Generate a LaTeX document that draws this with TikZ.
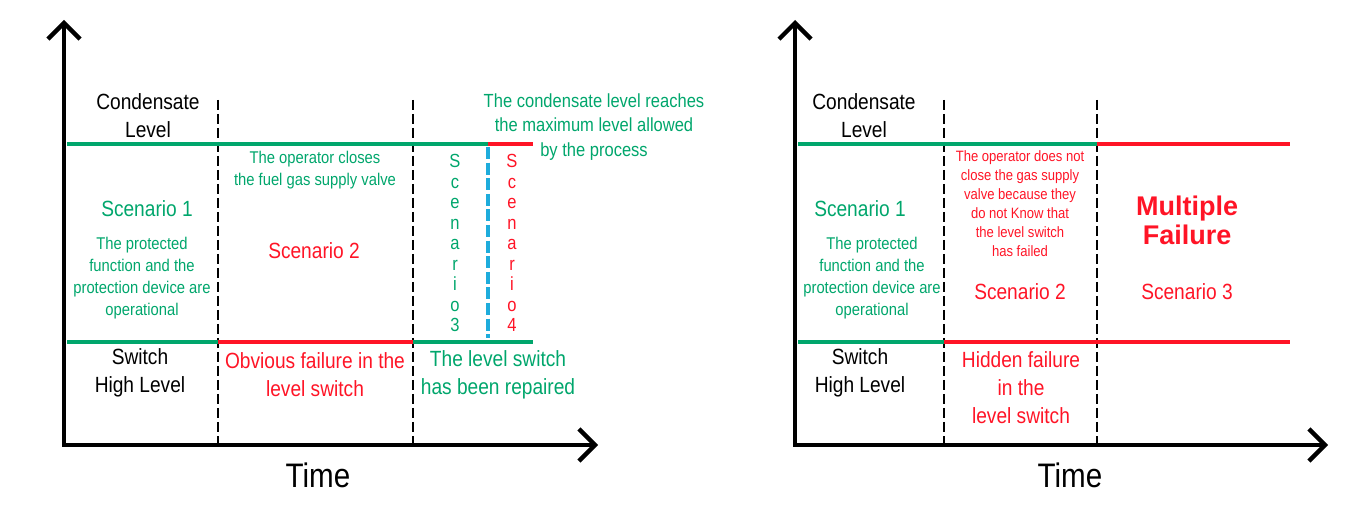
\documentclass[tikz,border=0pt]{standalone}
\usepackage{fontspec}
\setmainfont[FakeStretch=0.87]{Liberation Sans}
\newfontfamily\widesans{Liberation Sans}
\usetikzlibrary{arrows.meta}

\definecolor{okgreen}{RGB}{0,166,108}
\definecolor{badred}{RGB}{255,20,38}
\definecolor{sepcyan}{RGB}{30,172,220}

\begin{document}
\begin{tikzpicture}[x=0.5pt, y=-0.5pt,
    axis/.style={line width=2.2pt, line join=miter, {Straight Barb[length=8pt,width=16pt]}-{Straight Barb[length=8pt,width=16pt]}},
    level/.style={line width=2.1pt},
    sep/.style={black, line width=0.8pt, dash pattern=on 5pt off 2pt},
    txt/.style={font=\fontsize{11}{14}\selectfont, align=center, inner sep=0pt},
    small/.style={font=\fontsize{8.5}{11}\selectfont, align=center, inner sep=0pt},
    tiny/.style={font=\fontsize{7.5}{9.5}\selectfont, align=center, inner sep=0pt},
    note/.style={font=\fontsize{9.5}{12.25}\selectfont, align=center, inner sep=0pt},
    vert/.style={font=\fontsize{9.5}{10.25}\selectfont, align=center, inner sep=0pt},
    big/.style={font=\widesans\fontsize{13.5}{14.5}\selectfont\bfseries, align=center, inner sep=0pt},
    timelbl/.style={font=\fontsize{17}{20}\selectfont, inner sep=0pt}]
    \useasboundingbox (0,0) rectangle (1352,512);

    % ---- Left diagram: obvious failure ----
    % Axes
    \draw[axis] (64,20) -- (64,445) -- (598,445);
    \node[timelbl] (t1) at (318,475) {Time};

    % Time separators
    \draw[sep] (218,100) -- (218,445);
    \draw[sep] (413,100) -- (413,445);
    \draw[sepcyan, line width=1.6pt, dash pattern=on 6pt off 1.8pt] (488,147) -- (488,338);

    % Condensate level
    \draw[level, okgreen] (67,144) -- (488,144);
    \draw[level, badred] (488,144) -- (533,144);

    % Switch high level
    \draw[level, okgreen] (67,342) -- (218,342);
    \draw[level, badred] (218,342) -- (413,342);
    \draw[level, okgreen] (413,342) -- (533,342);

    % Labels
    \node[txt] (cl1) at (148,116) {Condensate\\Level};
    \node[txt] (sw1) at (140,373) {Switch\\High Level};
    \node[txt, okgreen] (sc1a) at (147,209) {Scenario 1};
    \node[small, okgreen] (pf1) at (142,278) {The protected\\function and the\\protection device are\\operational};
    \node[small, okgreen] (op1) at (315,170) {The operator closes\\the fuel gas supply valve};
    \node[txt, badred] (sc2a) at (314,251) {Scenario 2};
    \node[note, okgreen] (mx) at (594,127) {The condensate level reaches\\the maximum level allowed\\by the process};
    \node[vert, okgreen] (sc3a) at (455,243) {S\\c\\e\\n\\a\\r\\i\\o\\3};
    \node[vert, badred] (sc4a) at (512,243) {S\\c\\e\\n\\a\\r\\i\\o\\4};
    \node[txt, badred] (ob1) at (315,375) {Obvious failure in the\\level switch};
    \node[txt, okgreen] (rp1) at (498,375) {The level switch\\has been repaired};

    % ---- Right diagram: hidden failure ----
    % Axes
    \draw[axis] (795,20) -- (795,445) -- (1328,445);
    \node[timelbl] (t2) at (1070,475) {Time};

    % Time separators
    \draw[sep] (944,100) -- (944,445);
    \draw[sep] (1097,100) -- (1097,445);

    % Condensate level
    \draw[level, okgreen] (798,144) -- (1097,144);
    \draw[level, badred] (1097,144) -- (1290,144);

    % Switch high level
    \draw[level, okgreen] (798,342) -- (944,342);
    \draw[level, badred] (944,342) -- (1290,342);

    % Labels
    \node[txt] (cl2) at (864,116) {Condensate\\Level};
    \node[txt] (sw2) at (860,373) {Switch\\High Level};
    \node[txt, okgreen] (sc1b) at (860,209) {Scenario 1};
    \node[small, okgreen] (pf2) at (872,278) {The protected\\function and the\\protection device are\\operational};
    \node[tiny, badred] (op2) at (1020,204) {The operator does not\\close the gas supply\\valve because they\\do not Know that\\the level switch\\has failed};
    \node[txt, badred] (sc2b) at (1020,292) {Scenario 2};
    \node[big, badred] (mf) at (1187,220) {Multiple\\Failure};
    \node[txt, badred] (sc3b) at (1187,292) {Scenario 3};
    \node[txt, badred] (hf) at (1021,388) {Hidden failure\\in the\\level switch};
\end{tikzpicture}
\end{document}
